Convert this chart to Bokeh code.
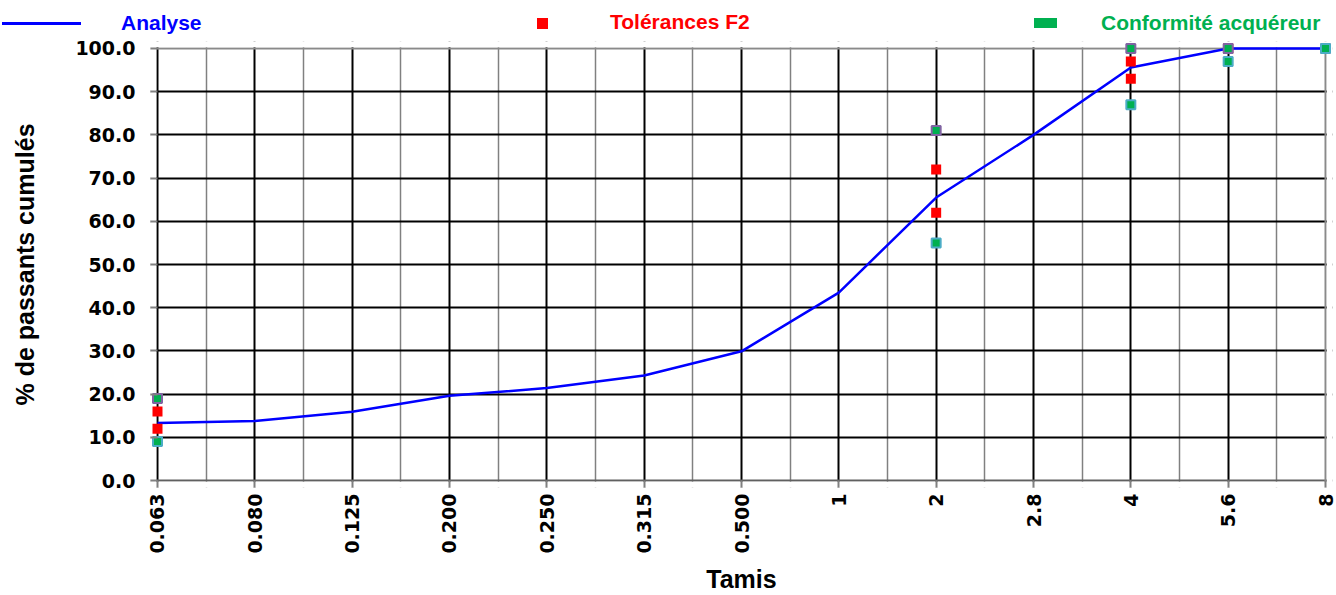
import math
from bokeh.plotting import figure
from bokeh.layouts import column
from bokeh.models import Range1d, FixedTicker, Grid, BoxAnnotation, NumeralTickFormatter, Div
from bokeh.embed import file_html
from bokeh.resources import INLINE

# ---------------- data ----------------
categories = ["0.063", "0.080", "0.125", "0.200", "0.250", "0.315", "0.500",
              "1", "2", "2.8", "4", "5.6", "8"]
analyse = [13.3, 13.8, 15.9, 19.6, 21.4, 24.3, 29.9, 43.5, 65.5, 80.0, 95.6, 100.0, 100.0]

tol_categories = ["0.063", "2", "4", "5.6"]
tol_low = [12, 62, 93, 100]
tol_high = [16, 72, 97, 100]

conf_categories = ["0.063", "2", "4", "5.6", "8"]
conf_high = [19, 81, 100, 100, 100]
conf_low = [9, 55, 87, 97, 100]

y_ticks = [0, 10, 20, 30, 40, 50, 60, 70, 80, 90, 100]
legend_labels = ["Analyse", "Tolérances F2", "Conformité acquéreur"]
y_title = "% de passants cumulés"
x_title = "Tamis"

# ---------------- styles ----------------
BLUE = "#0000FF"
RED = "#FF0000"
GREEN = "#00B050"
PURPLE = "#8064A2"
CYAN = "#4BACC6"
ARIAL = "Liberation Sans"
TICKFONT = "DejaVu Sans"

n = len(categories) - 1
padx = 0.0719
pady = 1.62

x_idx = list(range(len(categories)))
tol_x = [categories.index(c) for c in tol_categories]
conf_x = [categories.index(c) for c in conf_categories]

# ---------------- legend strip (HTML) ----------------
LH = 34
sym_styles = [
    f"left:2px;top:22px;width:79px;height:2.5px;background:{BLUE};",
    f"left:537px;top:18px;width:11px;height:11px;background:{RED};",
    f"left:1034px;top:18px;width:23px;height:10px;background:{GREEN};",
]
txt_pos = [(121, 12), (610, 11), (1101, 12)]
txt_cols = [BLUE, RED, GREEN]
parts = []
for sst, (tx, ty), col, lab in zip(sym_styles, txt_pos, txt_cols, legend_labels):
    parts.append(f'<div style="position:absolute;{sst}"></div>')
    parts.append(
        f'<span style="position:absolute;left:{tx}px;top:{ty}px;color:{col};'
        f"font-family:'{ARIAL}';font-weight:bold;font-size:21px;line-height:21px;"
        f'white-space:nowrap;">{lab}</span>')
legend_html = ('<div style="position:relative;width:1336px;height:%dpx;">' % LH
               + "".join(parts) + "</div>")
lg = Div(text=legend_html, width=1336, height=LH, margin=(0, 0, 0, 0))

# ---------------- main chart ----------------
p = figure(width=1336, height=595 - LH,
           x_range=Range1d(-padx, n + padx), y_range=Range1d(-pady, 100 + pady),
           output_backend="svg", toolbar_location=None,
           min_border_left=150, min_border_right=4, min_border_top=7, min_border_bottom=108,
           outline_line_color=None, margin=(0, 0, 0, 0))

# grids
p.xgrid.ticker = FixedTicker(ticks=list(range(n)), minor_ticks=[i + 0.5 for i in range(n)])
p.xgrid.grid_line_color = "black"
p.xgrid.grid_line_width = 2
p.xgrid.minor_grid_line_color = "#808080"
p.xgrid.minor_grid_line_width = 1.5
p.ygrid.ticker = FixedTicker(ticks=y_ticks[1:-1])
p.ygrid.grid_line_color = "black"
p.ygrid.grid_line_width = 2

p.add_layout(Grid(dimension=1, ticker=FixedTicker(ticks=[y_ticks[0]]),
                  grid_line_color="#606060", grid_line_width=2))
p.add_layout(Grid(dimension=1, ticker=FixedTicker(ticks=[y_ticks[-1]]),
                  grid_line_color="#8a8a8a", grid_line_width=2))
p.add_layout(Grid(dimension=0, ticker=FixedTicker(ticks=[n]),
                  grid_line_color="#8a8a8a", grid_line_width=2))

# white masks hiding grid stubs outside the plotting area
ex = 1.3 / 97.33
ey = 1.3 / 4.32
for kw in [dict(left=-padx, right=n + padx, bottom=100 + ey, top=100 + pady),
           dict(left=-padx, right=n + padx, bottom=-pady, top=-ey),
           dict(left=-padx, right=-ex, bottom=-pady, top=100 + pady),
           dict(left=n + ex, right=n + padx, bottom=-pady, top=100 + pady)]:
    p.add_layout(BoxAnnotation(fill_color="white", fill_alpha=1.0, line_color=None,
                               level="underlay", **kw))

# axes
p.xaxis.ticker = FixedTicker(ticks=x_idx, minor_ticks=[i + 0.5 for i in range(n)])
p.xaxis.major_label_overrides = {i: c for i, c in enumerate(categories)}
p.xaxis.major_label_orientation = math.pi / 2
p.xaxis.major_label_standoff = 6
p.xaxis.axis_label = x_title
p.xaxis.axis_label_standoff = 8

p.yaxis.ticker = FixedTicker(ticks=y_ticks)
p.yaxis.formatter = NumeralTickFormatter(format="0.0")
p.yaxis.major_label_standoff = 15
p.yaxis.axis_label = y_title
p.yaxis.axis_label_standoff = 33

for ax in (p.xaxis, p.yaxis):
    ax.axis_line_color = None
    ax.major_tick_in = 7
    ax.major_tick_out = 0
    ax.major_tick_line_color = "#808080"
    ax.major_tick_line_width = 2
    ax.minor_tick_in = 0
    ax.minor_tick_out = 0
    ax.minor_tick_line_color = None
    ax.major_label_text_font = TICKFONT
    ax.major_label_text_font_style = "bold"
    ax.major_label_text_font_size = "19px"
    ax.major_label_text_color = "black"
    ax.axis_label_text_font = ARIAL
    ax.axis_label_text_font_style = "bold"
    ax.axis_label_text_font_size = "25px"
    ax.axis_label_text_color = "black"

# data
p.line(x_idx, analyse, line_color=BLUE, line_width=2.5)
p.scatter(tol_x, tol_low, marker="square", size=10, fill_color=RED, line_color=None)
p.scatter(tol_x, tol_high, marker="square", size=10, fill_color=RED, line_color=None)
p.scatter(conf_x, conf_high, marker="square", size=9, fill_color=GREEN,
          line_color=PURPLE, line_width=2)
p.scatter(conf_x, conf_low, marker="square", size=9, fill_color=GREEN,
          line_color=CYAN, line_width=2)

layout = column(lg, p, spacing=0)
open("out.html", "w").write(file_html(layout, INLINE))
